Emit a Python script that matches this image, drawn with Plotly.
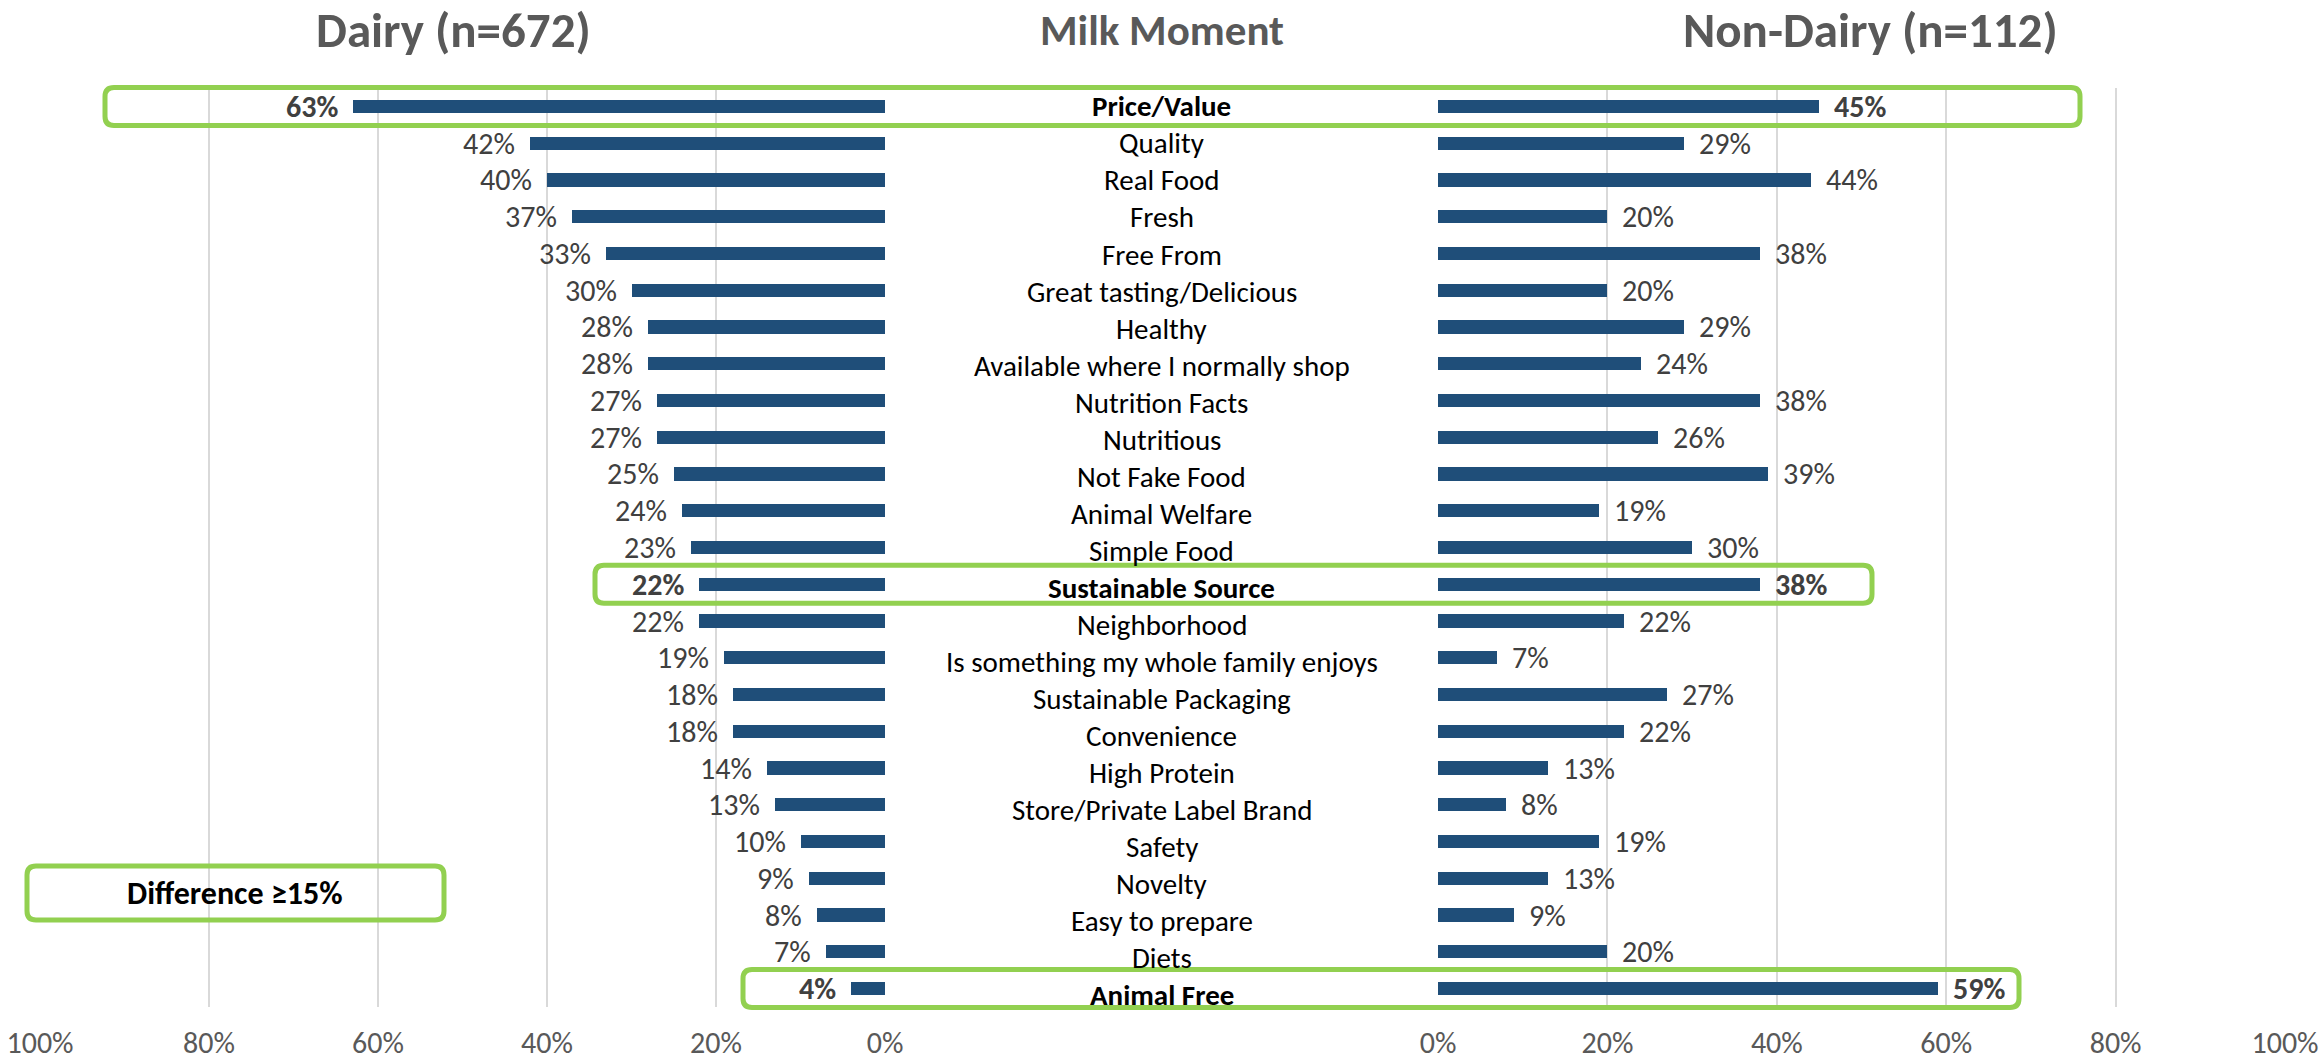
import plotly.graph_objects as go

# Survey data: share of shoppers choosing each "milk moment" attribute
categories = [
    "Price/Value", "Quality", "Real Food", "Fresh", "Free From",
    "Great tasting/Delicious", "Healthy", "Available where I normally shop",
    "Nutrition Facts", "Nutritious", "Not Fake Food", "Animal Welfare",
    "Simple Food", "Sustainable Source", "Neighborhood",
    "Is something my whole family enjoys", "Sustainable Packaging",
    "Convenience", "High Protein", "Store/Private Label Brand", "Safety",
    "Novelty", "Easy to prepare", "Diets", "Animal Free",
]
dairy = [63, 42, 40, 37, 33, 30, 28, 28, 27, 27, 25, 24, 23, 22, 22,
         19, 18, 18, 14, 13, 10, 9, 8, 7, 4]
non_dairy = [45, 29, 44, 20, 38, 20, 29, 24, 38, 26, 39, 19, 30, 38, 22,
             7, 27, 22, 13, 8, 19, 13, 9, 20, 59]
highlighted = ["Price/Value", "Sustainable Source", "Animal Free"]
tick_vals = [0, 20, 40, 60, 80, 100]
tick_text = ["0%", "20%", "40%", "60%", "80%", "100%"]

W, H = 2321, 1063
FONT = "Carlito, Calibri, Lato, sans-serif"
BAR = "#1F4E79"
GREEN = "#92D050"
GRID = "#D9D9D9"
LABEL = "#404040"
TITLE = "#595959"

# panel geometry (pixels)
LEFT_X = (40, 885)
RIGHT_X = (1438, 2285)
PLOT_TOP, PLOT_BOTTOM = 88, 1007
n = len(categories)
rows = list(range(n))


def px(x):
    return x / W


def py(y):
    return 1 - y / H


def row_px(i):
    return PLOT_TOP + (i + 0.5) * (PLOT_BOTTOM - PLOT_TOP) / n


def rounded_box(x0, x1, y0, y1, r=9):
    rx, ry = r / W, r / H
    X0, X1 = px(x0), px(x1)
    Yt, Yb = py(y0), py(y1)
    return (
        f"M {X0 + rx},{Yt} L {X1 - rx},{Yt} Q {X1},{Yt} {X1},{Yt - ry} "
        f"L {X1},{Yb + ry} Q {X1},{Yb} {X1 - rx},{Yb} "
        f"L {X0 + rx},{Yb} Q {X0},{Yb} {X0},{Yb + ry} "
        f"L {X0},{Yt - ry} Q {X0},{Yt} {X0 + rx},{Yt} Z"
    )


fig = go.Figure()
fig.add_bar(y=rows, x=dairy, orientation="h", xaxis="x", yaxis="y",
            marker=dict(color=BAR, line=dict(width=0)), width=0.36,
            hoverinfo="skip")
fig.add_bar(y=rows, x=non_dairy, orientation="h", xaxis="x2", yaxis="y",
            marker=dict(color=BAR, line=dict(width=0)), width=0.36,
            hoverinfo="skip")

annotations = []
for i, (cat, d, nd) in enumerate(zip(categories, dairy, non_dairy)):
    bold = cat in highlighted
    fmt = (lambda s: f"<b>{s}</b>") if bold else (lambda s: s)
    annotations.append(dict(
        x=d, y=i, xref="x", yref="y", text=fmt(f"{d}%"), showarrow=False,
        xanchor="right", xshift=-13, font=dict(size=30, color=LABEL)))
    annotations.append(dict(
        x=nd, y=i, xref="x2", yref="y", text=fmt(f"{nd}%"), showarrow=False,
        xanchor="left", xshift=13, font=dict(size=30, color=LABEL)))
    # the middle column of labels runs a touch looser than the bar rows
    annotations.append(dict(
        x=px((LEFT_X[1] + RIGHT_X[0]) / 2), y=i, xref="paper", yref="y",
        text=fmt(cat), showarrow=False, xanchor="center",
        yshift=-0.28 * i, font=dict(size=29, color="#000000")))

titles = [("Dairy (n=672)", 453, 49), ("Milk Moment", 1162, 43),
          ("Non-Dairy (n=112)", 1870, 49)]
for t, x, size in titles:
    annotations.append(dict(
        x=px(x), y=py(30), xref="paper", yref="paper", text=f"<b>{t}</b>",
        showarrow=False, xanchor="center", yanchor="middle",
        font=dict(size=size, color=TITLE)))

annotations.append(dict(
    x=px(235), y=py(893), xref="paper", yref="paper",
    text="<b>Difference ≥15%</b>", showarrow=False, xanchor="center",
    yanchor="middle", font=dict(size=32, color="#000000")))

# green frames around the rows with a gap of 15 points or more
frames = {
    "Price/Value": (105, 2080),
    "Sustainable Source": (595, 1872),
    "Animal Free": (743, 2019),
}
shapes = []
for cat, (x0, x1) in frames.items():
    i = categories.index(cat)
    yc = row_px(i)
    shapes.append(dict(type="path", xref="paper", yref="paper",
                       path=rounded_box(x0, x1, yc - 19, yc + 19),
                       line=dict(color=GREEN, width=5),
                       fillcolor="rgba(0,0,0,0)", layer="above"))
shapes.append(dict(type="path", xref="paper", yref="paper",
                   path=rounded_box(27, 444, 866, 920),
                   line=dict(color=GREEN, width=5),
                   fillcolor="rgba(0,0,0,0)", layer="above"))

axis_common = dict(
    tickvals=tick_vals, ticktext=tick_text, showgrid=True, gridcolor=GRID,
    gridwidth=1.5, zeroline=False, showline=False, ticks="",
    ticklabelstandoff=15, tickfont=dict(size=30, color=TITLE),
    anchor="y", fixedrange=True, automargin=False,
)

fig.update_layout(
    width=W, height=H,
    margin=dict(l=0, r=0, t=0, b=0, pad=0, autoexpand=False),
    paper_bgcolor="white", plot_bgcolor="white",
    font=dict(family=FONT),
    showlegend=False,
    bargap=0,
    xaxis=dict(domain=[px(LEFT_X[0]), px(LEFT_X[1])], range=[100, 0],
               **axis_common),
    xaxis2=dict(domain=[px(RIGHT_X[0]), px(RIGHT_X[1])], range=[0, 100],
                **axis_common),
    yaxis=dict(domain=[py(PLOT_BOTTOM), py(PLOT_TOP)],
               range=[n - 0.5, -0.5], showticklabels=False, showgrid=False,
               zeroline=False, showline=False, fixedrange=True,
               automargin=False),
    annotations=annotations,
    shapes=shapes,
)

fig.write_html("out.html")
